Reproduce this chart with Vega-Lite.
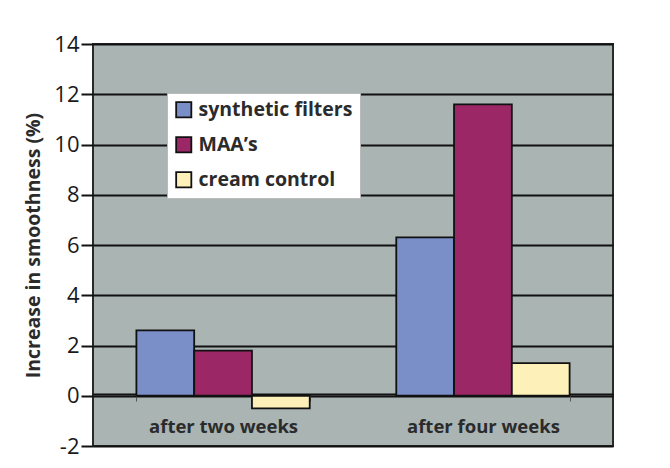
{
  "$schema": "https://vega.github.io/schema/vega-lite/v6.json",
  "autosize": "none",
  "width": 520,
  "height": 402,
  "padding": {"left": 93, "top": 44, "right": 57, "bottom": 22},
  "background": "white",
  "config": {
    "font": "Open Sans",
    "view": {"fill": "#a9b4b3", "stroke": "#2a2a2a", "strokeWidth": 2}
  },
  "data": {
    "values": [
      {"period": "after two weeks", "treatment": "synthetic filters", "value": 2.6},
      {"period": "after two weeks", "treatment": "MAA’s", "value": 1.8},
      {"period": "after two weeks", "treatment": "cream control", "value": -0.5},
      {"period": "after four weeks", "treatment": "synthetic filters", "value": 6.3},
      {"period": "after four weeks", "treatment": "MAA’s", "value": 11.6},
      {"period": "after four weeks", "treatment": "cream control", "value": 1.3}
    ]
  },
  "mark": {"type": "bar", "stroke": "#111", "strokeWidth": 1.8},
  "encoding": {
    "x": {
      "field": "period",
      "type": "nominal",
      "sort": ["after two weeks", "after four weeks"],
      "scale": {"paddingInner": 0.333, "paddingOuter": 0.167},
      "axis": {
        "title": null,
        "orient": "bottom",
        "offset": -52,
        "labelAngle": 0,
        "labelFont": "Open Sans",
        "labelFontWeight": "bold",
        "labelFontSize": 18.5,
        "labelColor": "#2b2b2b",
        "labelPadding": 16,
        "tickBand": "extent",
        "tickSize": 7,
        "tickColor": "#555",
        "domainColor": "#111",
        "domainWidth": 2,
        "grid": false
      }
    },
    "xOffset": {
      "field": "treatment",
      "type": "nominal",
      "sort": ["synthetic filters", "MAA’s", "cream control"]
    },
    "y": {
      "field": "value",
      "type": "quantitative",
      "scale": {"domain": [-2, 14], "nice": false, "zero": false},
      "axis": {
        "title": "Increase in smoothness (%)",
        "titleFont": "Open Sans",
        "titleFontWeight": "bold",
        "titleFontSize": 19.5,
        "titleColor": "#2b2b2b",
        "titlePadding": 10,
        "values": [-2, 0, 2, 4, 6, 8, 10, 12, 14],
        "labelExpr": "replace(format(datum.value, 'd'), '−', '-')",
        "labelFont": "Open Sans",
        "labelFontSize": 22,
        "labelColor": "#1a1a1a",
        "labelPadding": 2,
        "tickSize": 12,
        "tickColor": "#111",
        "tickWidth": 2,
        "domain": false,
        "grid": true,
        "gridColor": "#111",
        "gridWidth": 2,
        "gridOpacity": 1
      }
    },
    "color": {
      "field": "treatment",
      "type": "nominal",
      "sort": ["synthetic filters", "MAA’s", "cream control"],
      "scale": {
        "domain": ["synthetic filters", "MAA’s", "cream control"],
        "range": ["#7a8fc8", "#9c2767", "#fdf1b9"]
      },
      "legend": {
        "title": null,
        "orient": "none",
        "legendX": 74,
        "legendY": 49,
        "fillColor": "white",
        "strokeColor": "#bbb",
        "padding": 7,
        "symbolType": "square",
        "symbolSize": 230,
        "symbolStrokeColor": "#111",
        "symbolStrokeWidth": 1.8,
        "labelFont": "Open Sans",
        "labelFontWeight": "bold",
        "labelFontSize": 19.5,
        "labelColor": "#2b2b2b",
        "rowPadding": 12,
        "labelOffset": 5
      }
    }
  }
}
